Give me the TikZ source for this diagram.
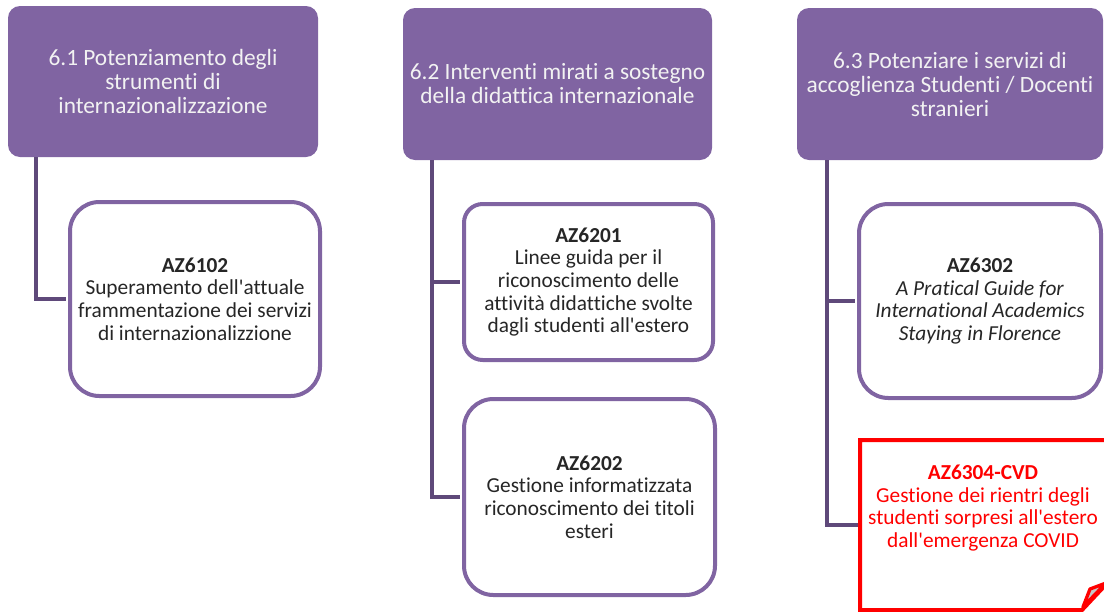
\documentclass[tikz,border=0pt]{standalone}
\usepackage{fontspec}
\setmainfont{Carlito}[Ligatures={NoCommon}]
\definecolor{hdr}{HTML}{8064A2}
\definecolor{bord}{HTML}{8064A2}
\definecolor{connc}{HTML}{5F497A}
\definecolor{txt}{HTML}{262626}
\definecolor{hdrtxt}{HTML}{F2F2F2}
\newcommand{\apo}{\textquotesingle}
\begin{document}
\begin{tikzpicture}[x=0.75pt,y=-0.75pt,
  hdrbox/.style={fill=hdr, draw=none, rounded corners=9pt, text=hdrtxt, align=center,
    font=\fontsize{17.5}{18}\selectfont, inner sep=0pt},
  actbox/.style={draw=bord, line width=3pt, fill=white, rounded corners=22pt, text=txt,
    align=center, font=\fontsize{16}{17}\selectfont, inner sep=0pt},
  redbox/.style={draw=red, line width=3pt, fill=white},
  redtxt/.style={text=red, align=center, font=\fontsize{16}{17}\selectfont, inner sep=0pt},
  connline/.style={draw=connc, line width=3.2pt},
]
\useasboundingbox (0,0) rectangle (1104,611);
\clip (0,0) rectangle (1104,611);

% headers
\node[hdrbox, minimum width=232.5pt, minimum height=113.25pt] (h1) at (163,81.5)
  {6.1 Potenziamento degli\\strumenti di\\internazionalizzazione};
\node[hdrbox, minimum width=231.75pt, minimum height=114pt] (h2) at (557.5,84)
  {6.2 Interventi mirati a sostegno\\della didattica internazionale};
\node[hdrbox, minimum width=229.5pt, minimum height=114pt] (h3) at (950,84)
  {6.3 Potenziare i servizi di\\accoglienza Studenti / Docenti\\stranieri};

% connector start points
\coordinate (c1) at (36,157);
\coordinate (c2) at (432,160);
\coordinate (c3) at (827,160);

% action boxes
\node[actbox, minimum width=187.5pt, minimum height=145.5pt] (b6102) at (195,299)
  {\textbf{AZ6102}\\Superamento dell\apo attuale\\frammentazione dei servizi\\di internazionalizzione};
\node[actbox, rounded corners=14pt, minimum width=186.75pt, minimum height=117pt] (b6201) at (588.5,282)
  {\textbf{AZ6201}\\Linee guida per il\\riconoscimento delle\\attività didattiche svolte\\dagli studenti all\apo estero};
\node[actbox, minimum width=188.25pt, minimum height=147pt] (b6202) at (589.5,497)
  {\textbf{AZ6202}\\Gestione informatizzata\\riconoscimento dei titoli\\esteri};
\node[actbox, minimum width=181.5pt, minimum height=145.5pt] (b6302) at (980,301)
  {\textbf{AZ6302}\\\textit{A Pratical Guide for}\\\textit{International Academics}\\\textit{Staying in Florence}};

% red folded box
\draw[redbox] (860,440) -- (1112,440) -- (1112,578) -- (1082,610) -- (860,610) -- cycle;
\draw[draw=red, line width=2.5pt, fill=black!22, line join=round] (1083,607) -- (1090,589) -- (1106,583) -- cycle;
\node[redtxt] (b6304) at (983,508)
  {\textbf{AZ6304-CVD}\\Gestione dei rientri degli\\studenti sorpresi all\apo estero\\dall\apo emergenza COVID};
\coordinate (r6304) at (860,525);

% connectors
\draw[connline, shorten >=1.5pt] (c1) |- (b6102.west);
\draw[connline, shorten >=1.5pt] (c2) |- (b6202.west);
\draw[connline, shorten >=1.5pt] (c2 |- b6201.west) -- (b6201.west);
\draw[connline, shorten >=1.5pt] (c3) |- (r6304);
\draw[connline, shorten >=1.5pt] (c3 |- b6302.west) -- (b6302.west);
\end{tikzpicture}
\end{document}
